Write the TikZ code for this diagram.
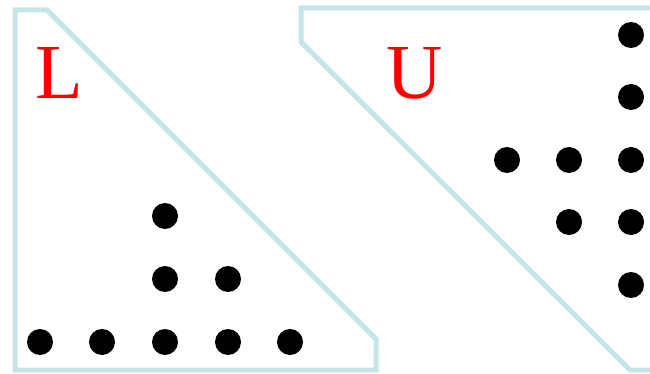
\documentclass[tikz,border=0pt]{standalone}
\usepackage{fontspec}
\setmainfont{Liberation Serif}
\definecolor{frame}{HTML}{C6E5E8}
\begin{document}
\begin{tikzpicture}[x=1pt,y=-1pt,
  region/.style={draw=frame,line width=5pt,line join=miter},
  dot/.style={circle,fill=black,inner sep=0pt,minimum size=26pt},
  lab/.style={text=red,font=\fontsize{78}{78}\selectfont,inner sep=0pt}]
\clip (0,0) rectangle (650,374);
\useasboundingbox (0,0) rectangle (650,374);
% L region
\draw[region] (15,10) -- (47,10) -- (376,339) -- (376,370) -- (15,370) -- cycle;
% U region
\draw[region] (660,8) -- (301,8) -- (301,42) -- (630,370) -- (660,370);
\node[lab] (Llab) at (59,73) {L};
\node[lab] (Ulab) at (415,73) {U};
% L dots
\foreach \x/\y [count=\i] in {40/342,102/342,165/342,228/342,290/342,165/279,228/279,165/216}
  \node[dot] (l\i) at (\x,\y) {};
% U dots
\foreach \x/\y [count=\i] in {631/35,631/97,631/160,631/222,631/285,507/160,569/160,569/222}
  \node[dot] (u\i) at (\x,\y) {};
\end{tikzpicture}
\end{document}
